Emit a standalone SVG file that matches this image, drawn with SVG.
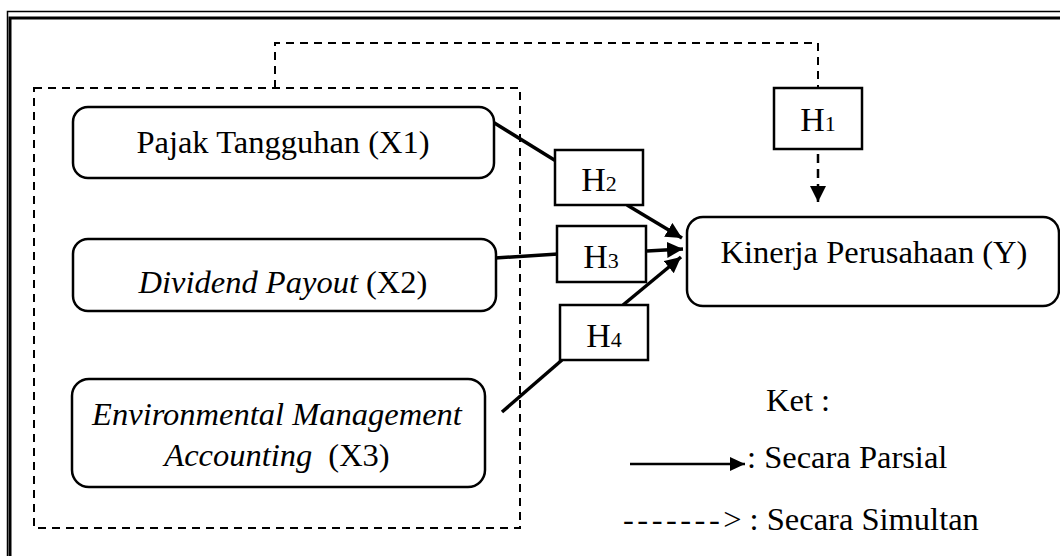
<svg xmlns="http://www.w3.org/2000/svg" width="1060" height="556" viewBox="0 0 1060 556">
<style>
  .t { font-family: "Liberation Serif", "Times New Roman", serif; font-size: 32.5px; fill: #000; }
  .h { font-family: "Liberation Serif", "Times New Roman", serif; font-size: 34px; fill: #000; }
  .sub { font-size: 22px; }
  .node { fill: #fff; stroke: #000; stroke-width: 2.5; }
  .hbox { fill: #fff; stroke: #000; stroke-width: 2.5; }
  .solid { fill: none; stroke: #000; stroke-width: 3.5; }
  .dash { fill: none; stroke: #000; stroke-width: 2; stroke-dasharray: 8 6; }
  .dashthick { fill: none; stroke: #000; stroke-width: 2.5; stroke-dasharray: 9 6; }
  .it { font-style: italic; }
</style>
<defs>
  <marker id="ah" markerUnits="userSpaceOnUse" markerWidth="18" markerHeight="18" refX="16" refY="8" orient="auto">
    <path d="M0,0 L16,8 L0,16 Z" fill="#000"/>
  </marker>
  <marker id="ahs" markerUnits="userSpaceOnUse" markerWidth="16" markerHeight="16" refX="15" refY="7" orient="auto">
    <path d="M0,0 L15,7 L0,14 Z" fill="#000"/>
  </marker>
</defs>
<rect width="1060" height="556" fill="#fff"/>
<g id="frame">
  <path d="M7.5,556 V11.5 H1060" fill="none" stroke="#000" stroke-width="1.5"/>
  <path d="M10,556 V18 H1060" fill="none" stroke="#000" stroke-width="3"/>
</g>
<g id="group-box">
  <rect x="34" y="88" width="486" height="440" class="dash"/>
</g>
<g id="connectors">
  <path d="M275,88 V43 H818 V88" class="dash"/>
  <path d="M818,139 V202" class="dashthick" marker-end="url(#ah)"/>
  <path d="M488,119 L556,161" class="solid"/>
  <path d="M627,205 L682,238" class="solid" marker-end="url(#ah)"/>
  <path d="M495,258 L558,254" class="solid"/>
  <path d="M647,251 L683,249" class="solid" marker-end="url(#ah)"/>
  <path d="M502,412 L562,360" class="solid"/>
  <path d="M623,305 L681,257" class="solid" marker-end="url(#ah)"/>
</g>
<g id="x1">
  <rect x="73" y="107" width="421" height="71" rx="15" class="node"/>
  <text x="283" y="153" text-anchor="middle" class="t">Pajak Tangguhan (X1)</text>
</g>
<g id="x2">
  <rect x="73" y="239" width="423" height="72" rx="15" class="node"/>
  <text x="283" y="293" text-anchor="middle" class="t"><tspan class="it">Dividend Payout</tspan> (X2)</text>
</g>
<g id="x3">
  <rect x="72" y="379" width="413" height="108" rx="17" class="node"/>
  <text x="277" y="425" text-anchor="middle" class="t it">Environmental Management</text>
  <text x="277" y="466" text-anchor="middle" class="t"><tspan class="it">Accounting</tspan><tspan dx="16">(X3)</tspan></text>
</g>
<g id="y">
  <rect x="687" y="217" width="372" height="89" rx="16" class="node"/>
  <text x="874" y="263" text-anchor="middle" class="t">Kinerja Perusahaan (Y)</text>
</g>
<g id="h1">
  <rect x="774" y="88" width="88" height="61" class="hbox"/>
  <text x="818" y="131" text-anchor="middle" class="h">H<tspan class="sub">1</tspan></text>
</g>
<g id="h2">
  <rect x="555" y="150" width="88" height="55" class="hbox"/>
  <text x="599" y="191" text-anchor="middle" class="h">H<tspan class="sub">2</tspan></text>
</g>
<g id="h3">
  <rect x="557" y="226" width="89" height="56" class="hbox"/>
  <text x="601" y="268" text-anchor="middle" class="h">H<tspan class="sub">3</tspan></text>
</g>
<g id="h4">
  <rect x="560" y="305" width="88" height="55" class="hbox"/>
  <text x="604" y="347" text-anchor="middle" class="h">H<tspan class="sub">4</tspan></text>
</g>
<g id="legend">
  <text x="766" y="411" class="t">Ket :</text>
  <path d="M630,464 H745" fill="none" stroke="#000" stroke-width="2.5" marker-end="url(#ahs)"/>
  <text x="747" y="468" class="t">: Secara Parsial</text>
  <text x="623" y="530" class="t"><tspan letter-spacing="3.5">-------</tspan>&gt;<tspan dx="8">: Secara Simultan</tspan></text>
</g>
</svg>
